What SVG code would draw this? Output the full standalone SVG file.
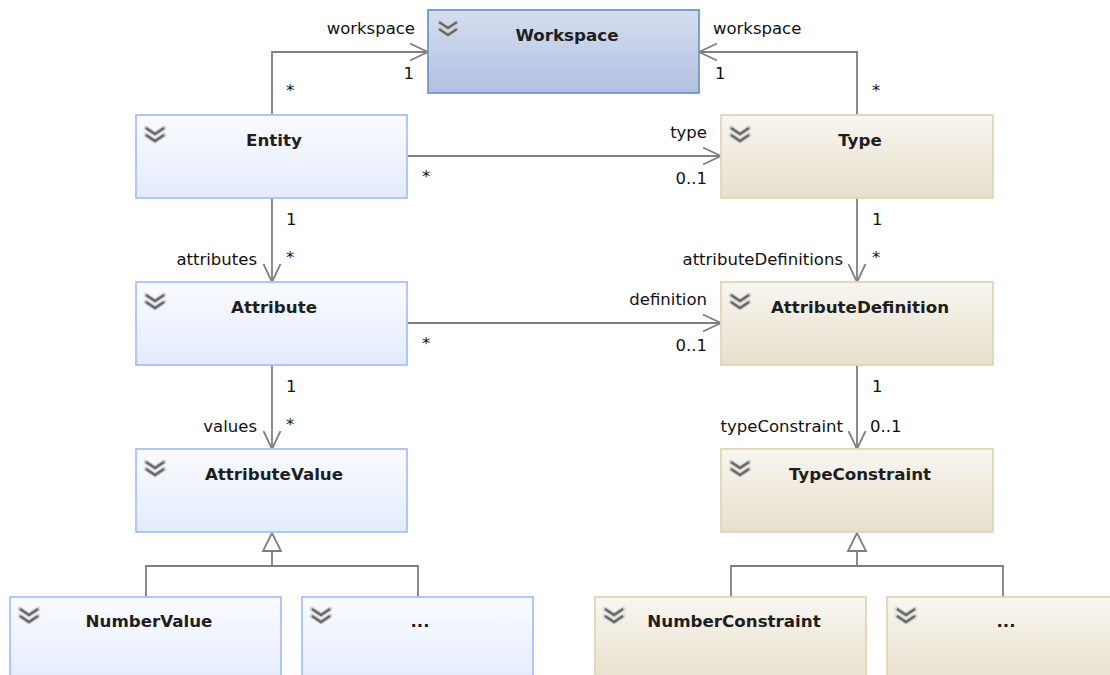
<svg xmlns="http://www.w3.org/2000/svg" xmlns:xlink="http://www.w3.org/1999/xlink" width="1110" height="675" viewBox="0 0 1110 675">
  <defs>
    <linearGradient id="gBlue" x1="0" y1="0" x2="0" y2="1">
      <stop offset="0" stop-color="#fafbff"/>
      <stop offset="1" stop-color="#e3ebfc"/>
    </linearGradient>
    <linearGradient id="gWork" x1="0" y1="0" x2="0" y2="1">
      <stop offset="0" stop-color="#d5def1"/>
      <stop offset="1" stop-color="#b2c0e1"/>
    </linearGradient>
    <linearGradient id="gTan" x1="0" y1="0" x2="0" y2="1">
      <stop offset="0" stop-color="#f8f6f1"/>
      <stop offset="1" stop-color="#e8dfcb"/>
    </linearGradient>
    <!-- collapse toggle shown in each class header -->
    <g id="chev">
      <path d="M2,2 L11,8 L20,2 M2,9 L11,15 L20,9" fill="none" stroke="#d2d2d2" stroke-width="4.8" stroke-linejoin="round" stroke-linecap="round"/>
      <path d="M2,2 L11,8 L20,2 M2,9 L11,15 L20,9" fill="none" stroke="#6a6a6a" stroke-width="2.6" stroke-linejoin="miter"/>
    </g>
    <marker id="open" viewBox="0 0 20 20" refX="18" refY="10" markerWidth="20" markerHeight="20" markerUnits="userSpaceOnUse" orient="auto">
      <path d="M0,1.5 L18,10 L0,18.5" fill="none" stroke="#7f7f7f" stroke-width="1.8"/>
    </marker>
  </defs>
  <style>
    .blue { fill: url(#gBlue); stroke: #a9c3f5; stroke-width: 1.8; }
    .work { fill: url(#gWork); stroke: #7297c9; stroke-width: 1.8; }
    .tan { fill: url(#gTan); stroke: #e3d5b6; stroke-width: 1.8; }
    .title { font-family: "DejaVu Sans", Verdana, sans-serif; font-weight: bold; font-size: 16.7px; fill: #1e1e1e; text-anchor: middle; }
    .lbl { font-family: "DejaVu Sans", Verdana, sans-serif; font-size: 16.5px; fill: #111; }
    .end { text-anchor: end; }
    .conn { fill: none; stroke: #7f7f7f; stroke-width: 1.8; }
    .assoc { marker-end: url(#open); }
    .tri { fill: #ffffff; stroke: #7f7f7f; stroke-width: 1.8; stroke-linejoin: miter; }
  </style>

  <!-- connectors -->
  <g id="connectors">
    <path class="conn assoc" d="M272,115 V52 H428"/>
    <path class="conn assoc" d="M857,115 V52 H699"/>
    <path class="conn assoc" d="M407,156 H721"/>
    <path class="conn assoc" d="M407,323 H721"/>
    <path class="conn assoc" d="M272,198 V282"/>
    <path class="conn assoc" d="M857,198 V282"/>
    <path class="conn assoc" d="M272,365 V449"/>
    <path class="conn assoc" d="M857,365 V449"/>
    <!-- generalization: AttributeValue -->
    <path class="conn" d="M272,551 V566 M146,597 V566 H418 V597"/>
    <polygon class="tri" points="272,533 263,551 281,551"/>
    <!-- generalization: TypeConstraint -->
    <path class="conn" d="M857,551 V566 M731,597 V566 H1003 V597"/>
    <polygon class="tri" points="857,533 848,551 866,551"/>

    <!-- role names and multiplicities -->
    <text class="lbl end" x="415" y="34">workspace</text>
    <text class="lbl end" x="414" y="79">1</text>
    <text class="lbl" x="286" y="96">*</text>

    <text class="lbl" x="713" y="34">workspace</text>
    <text class="lbl" x="715" y="79">1</text>
    <text class="lbl" x="872" y="96">*</text>

    <text class="lbl end" x="707" y="138">type</text>
    <text class="lbl end" x="707" y="184">0..1</text>
    <text class="lbl" x="422" y="182">*</text>

    <text class="lbl" x="286" y="225">1</text>
    <text class="lbl end" x="257" y="265">attributes</text>
    <text class="lbl" x="286" y="263">*</text>

    <text class="lbl" x="872" y="225">1</text>
    <text class="lbl end" x="843" y="265">attributeDefinitions</text>
    <text class="lbl" x="872" y="263">*</text>

    <text class="lbl end" x="707" y="305">definition</text>
    <text class="lbl end" x="707" y="351">0..1</text>
    <text class="lbl" x="422" y="349">*</text>

    <text class="lbl" x="286" y="392">1</text>
    <text class="lbl end" x="257" y="432">values</text>
    <text class="lbl" x="286" y="430">*</text>

    <text class="lbl" x="872" y="392">1</text>
    <text class="lbl end" x="843" y="432">typeConstraint</text>
    <text class="lbl" x="870" y="432">0..1</text>
  </g>

  <!-- classes -->
  <g id="workspace">
    <rect class="work" x="428" y="10" width="271" height="83"/>
    <use href="#chev" x="437" y="20"/>
    <text class="title" x="567" y="41">Workspace</text>
  </g>
  <g id="entity">
    <rect class="blue" x="136" y="115" width="271" height="83"/>
    <use href="#chev" x="144" y="126"/>
    <text class="title" x="274" y="146">Entity</text>
  </g>
  <g id="type">
    <rect class="tan" x="721" y="115" width="272" height="83"/>
    <use href="#chev" x="729" y="126"/>
    <text class="title" x="860" y="146">Type</text>
  </g>
  <g id="attribute">
    <rect class="blue" x="136" y="282" width="271" height="83"/>
    <use href="#chev" x="144" y="293"/>
    <text class="title" x="274" y="313">Attribute</text>
  </g>
  <g id="attributeDefinition">
    <rect class="tan" x="721" y="282" width="272" height="83"/>
    <use href="#chev" x="729" y="293"/>
    <text class="title" x="860" y="313">AttributeDefinition</text>
  </g>
  <g id="attributeValue">
    <rect class="blue" x="136" y="449" width="271" height="83"/>
    <use href="#chev" x="144" y="460"/>
    <text class="title" x="274" y="480">AttributeValue</text>
  </g>
  <g id="typeConstraint">
    <rect class="tan" x="721" y="449" width="272" height="83"/>
    <use href="#chev" x="729" y="460"/>
    <text class="title" x="860" y="480">TypeConstraint</text>
  </g>
  <g id="numberValue">
    <rect class="blue" x="10" y="597" width="271" height="90"/>
    <use href="#chev" x="18" y="607"/>
    <text class="title" x="149" y="627">NumberValue</text>
  </g>
  <g id="otherValue">
    <rect class="blue" x="302" y="597" width="231" height="90"/>
    <use href="#chev" x="310" y="607"/>
    <text class="title" x="420" y="627">...</text>
  </g>
  <g id="numberConstraint">
    <rect class="tan" x="595" y="597" width="271" height="90"/>
    <use href="#chev" x="603" y="607"/>
    <text class="title" x="734" y="627">NumberConstraint</text>
  </g>
  <g id="otherConstraint">
    <rect class="tan" x="887" y="597" width="232" height="90"/>
    <use href="#chev" x="895" y="607"/>
    <text class="title" x="1006" y="627">...</text>
  </g>
</svg>
